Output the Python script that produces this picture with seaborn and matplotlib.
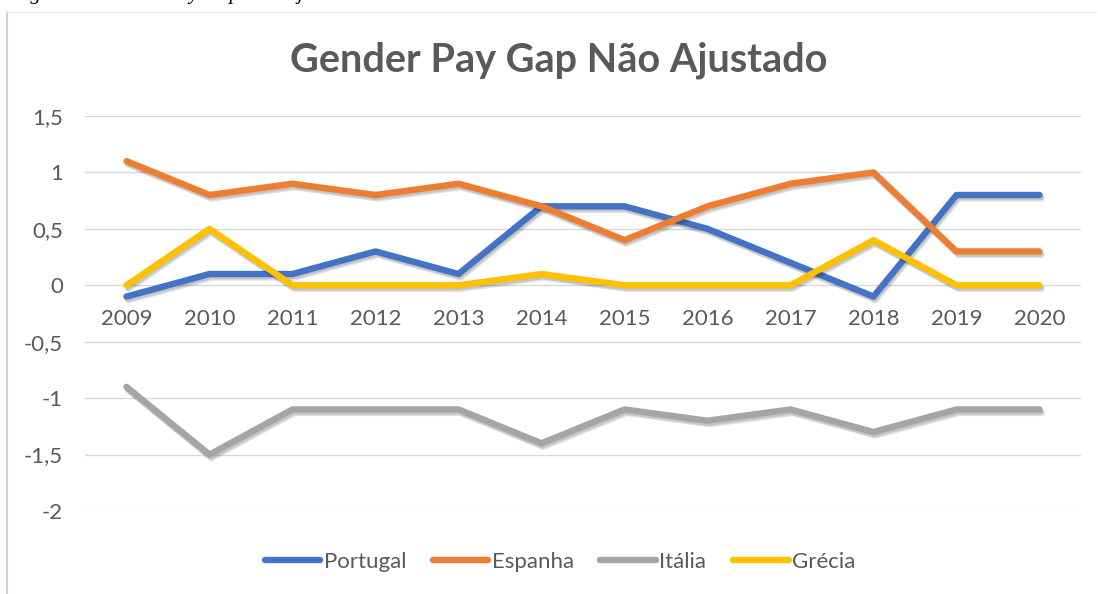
import matplotlib
matplotlib.use('Agg')
import matplotlib.pyplot as plt
import matplotlib.patheffects as pe
from matplotlib.lines import Line2D
import seaborn as sns
import pandas as pd

# Data
years = [2009, 2010, 2011, 2012, 2013, 2014, 2015, 2016, 2017, 2018, 2019, 2020]
portugal = [-0.1, 0.1, 0.1, 0.3, 0.1, 0.7, 0.7, 0.5, 0.2, -0.1, 0.8, 0.8]
espanha = [1.1, 0.8, 0.9, 0.8, 0.9, 0.7, 0.4, 0.7, 0.9, 1.0, 0.3, 0.3]
italia = [-0.9, -1.5, -1.1, -1.1, -1.1, -1.4, -1.1, -1.2, -1.1, -1.3, -1.1, -1.1]
grecia = [0.0, 0.5, 0.0, 0.0, 0.0, 0.1, 0.0, 0.0, 0.0, 0.4, 0.0, 0.0]
countries = ['Portugal', 'Espanha', 'Itália', 'Grécia']
colors = ['#4472C4', '#ED7D31', '#A5A5A5', '#FFC000']
y_ticks = [1.5, 1, 0.5, 0, -0.5, -1, -1.5, -2]
y_labels = ['1,5', '1', '0,5', '0', '-0,5', '-1', '-1,5', '-2']

df = pd.DataFrame({'Ano': years * 4,
                   'País': [c for c in countries for _ in years],
                   'Valor': portugal + espanha + italia + grecia})

sns.set_theme(style='white')
plt.rcParams['font.family'] = ['Lato', 'DejaVu Sans']
grey = '#595959'

fig = plt.figure(figsize=(10.98, 5.94), dpi=100)
ax = fig.add_axes([85 / 1098, 83 / 594, 996 / 1098, 395 / 594])

sns.lineplot(data=df, x='Ano', y='Valor', hue='País', palette=colors,
             linewidth=4.6, legend=False, ax=ax, sort=False)
# soft drop shadow like the Excel original
for ln in ax.get_lines():
    ln.set_solid_capstyle('round')
    ln.set_solid_joinstyle('round')
    ln.set_path_effects([pe.SimpleLineShadow(offset=(1.5, -2.5), shadow_color='black', alpha=0.12),
                         pe.SimpleLineShadow(offset=(0.8, -1.5), shadow_color='black', alpha=0.12),
                         pe.Normal()])

ax.set_xlim(2008.5, 2020.5)
ax.set_ylim(-2, 1.5)
ax.set_yticks(y_ticks)
ax.set_yticklabels(y_labels)
ax.set_xticks(years)
ax.set_xticklabels([str(y) for y in years])
ax.grid(axis='y', color='#D9D9D9', linewidth=1.0)
ax.grid(axis='x', visible=False)
ax.set_axisbelow(True)
for s in ['top', 'right', 'left']:
    ax.spines[s].set_visible(False)
ax.spines['bottom'].set_position(('data', 0))
ax.spines['bottom'].set_visible(False)
ax.tick_params(axis='x', length=0, pad=17, labelsize=16, labelcolor=grey)
ax.tick_params(axis='y', length=0, pad=16, labelsize=16, labelcolor=grey)
ax.set_xlabel('')
ax.set_ylabel('')

fig.text(559 / 1098, 534 / 594, 'Gender Pay Gap Não Ajustado', ha='center', va='center',
         fontsize=28.5, fontweight='bold', color=grey)

# caption above the chart, cut off at the top edge as in the source
fig.text(12 / 1098, 1 + 1 / 594, 'Figura 5: Gender Pay Gap Não Ajustado', ha='left',
         va='baseline', fontsize=15, style='italic', family='Liberation Serif', color='black')

# chart border (left and top)
fig.add_artist(Line2D([7 / 1098, 7 / 1098], [0, 582 / 594], color='#D0D0D0', linewidth=1.5))
fig.add_artist(Line2D([7 / 1098, 1096 / 1098], [582 / 594, 582 / 594], color='#EEEEEE', linewidth=1))

handles = [Line2D([0], [0], color=c, linewidth=4.6, solid_capstyle='round') for c in colors]
fig.legend(handles, countries, loc='center', bbox_to_anchor=(560 / 1098, 32 / 594), ncol=4,
           frameon=False, fontsize=16, labelcolor=grey, handlelength=2.5,
           handletextpad=0.15, columnspacing=1.2)

fig.savefig('out.png', dpi=100, facecolor='white')
